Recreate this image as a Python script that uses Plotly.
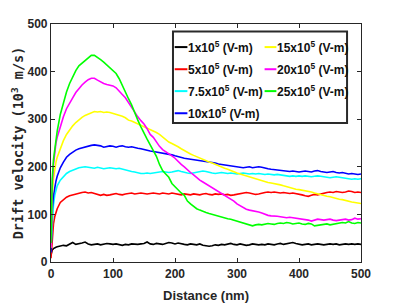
import plotly.graph_objects as go

distance_nm = [0, 1, 2, 4, 6, 8] + list(range(10, 501, 5))

v_1x = [15, 20, 25, 28, 30, 31,
        32, 33, 35, 34, 38, 41, 37, 38, 40, 42, 38, 36, 37, 38, 36, 37, 39, 38, 37, 38, 36, 35, 37, 36,
        38, 37, 37, 38, 39, 42, 38, 37, 39, 38, 37, 39, 41, 40, 38, 40, 38, 37, 36, 38, 37, 36, 38, 35,
        34, 33, 34, 36, 35, 37, 36, 38, 39, 37, 36, 38, 37, 35, 36, 38, 37, 36, 37, 36, 38, 37, 36, 38,
        39, 37, 38, 40, 41, 39, 37, 36, 37, 38, 36, 37, 38, 37, 36, 37, 38, 37, 38, 36, 37, 38, 37, 38,
        37, 38, 37]

v_5x = [8, 30, 55, 80, 95, 105,
        112, 125, 131, 136, 139, 141, 143, 144, 146, 147, 145, 146, 144, 141, 140, 142, 140, 141, 143, 144, 142, 141, 143, 144,
        145, 143, 144, 145, 144, 143, 144, 145, 144, 143, 145, 144, 143, 145, 144, 142, 141, 143, 142, 141, 143, 142, 141, 143,
        144, 142, 141, 143, 142, 143, 141, 142, 140, 141, 142, 144, 145, 146, 145, 144, 142, 143, 145, 146, 147, 146, 147, 146,
        145, 146, 145, 144, 145, 144, 143, 141, 139, 138, 140, 142, 141, 143, 144, 146, 147, 146, 148, 147, 146, 147, 149, 148,
        146, 147, 146]

v_7_5x = [30, 60, 90, 120, 140, 152,
          160, 172, 180, 186, 190, 193, 196, 198, 199, 200, 199, 198, 197, 199, 198, 196, 197, 198, 197, 196, 197, 195, 194, 192,
          190, 189, 187, 186, 186, 187, 186, 187, 188, 189, 190, 189, 188, 189, 191, 192, 190, 188, 187, 186, 187, 189, 190, 191,
          190, 188, 187, 186, 187, 188, 187, 186, 187, 186, 185, 186, 187, 186, 185, 186, 185, 186, 185, 184, 185, 184, 183, 184,
          183, 182, 181, 180, 181, 180, 181, 180, 181, 180, 179, 180, 181, 180, 179, 178, 177, 178, 179, 178, 177, 176, 175, 174,
          175, 174, 175]

v_10x = [20, 70, 110, 140, 158, 170,
         180, 198, 210, 220, 226, 231, 235, 238, 240, 242, 244, 245, 246, 245, 244, 241, 242, 244, 243, 241, 243, 244, 242, 241,
         242, 240, 239, 238, 236, 235, 233, 232, 231, 230, 228, 227, 226, 225, 223, 221, 219, 218, 217, 216, 215, 215, 214, 212,
         211, 210, 209, 208, 206, 205, 204, 203, 201, 200, 199, 198, 198, 199, 200, 198, 199, 200, 199, 197, 196, 195, 194, 193,
         192, 191, 190, 190, 191, 190, 189, 190, 191, 190, 189, 191, 192, 190, 189, 188, 189, 190, 188, 187, 188, 186, 185, 186,
         185, 184, 185]

v_15x = [30, 90, 140, 175, 195, 210,
         220, 240, 255, 268, 278, 286, 293, 299, 304, 308, 311, 314, 316, 315, 316, 314, 315, 314, 312, 310, 309, 306, 303, 298,
         296, 293, 290, 287, 284, 281, 279, 276, 272, 268, 263, 258, 252, 249, 246, 242, 238, 234, 230, 227, 224, 221, 218, 216,
         213, 210, 208, 205, 202, 199, 197, 195, 192, 190, 187, 185, 183, 181, 179, 177, 175, 172, 170, 168, 167, 166, 165, 163,
         162, 160, 158, 157, 155, 153, 152, 151, 150, 148, 147, 145, 143, 142, 140, 138, 137, 135, 134, 132, 131, 129, 128, 126,
         125, 124, 123]

v_20x = [30, 100, 160, 205, 230, 250,
         262, 285, 305, 322, 335, 345, 356, 365, 372, 378, 383, 386, 386, 382, 378, 375, 373, 372, 370, 366, 360, 352, 345, 335,
         325, 313, 305, 297, 290, 280, 268, 262, 252, 243, 236, 232, 228, 223, 218, 211, 205, 200, 193, 188, 183, 177, 172, 168,
         164, 160, 157, 152, 148, 144, 140, 136, 132, 128, 122, 118, 114, 111, 109, 108, 106, 105, 103, 100, 98, 97, 97, 96,
         95, 94, 93, 94, 93, 93, 92, 91, 90, 88, 86, 88, 90, 89, 88, 89, 90, 88, 87, 88, 89, 90, 88, 89,
         92, 90, 91]

v_25x = [40, 120, 175, 215, 240, 260,
         275, 310, 335, 357, 375, 390, 402, 412, 418, 422, 428, 434, 434, 430, 425, 420, 414, 408, 401, 396, 385, 370, 356, 343,
         330, 313, 298, 284, 270, 258, 246, 234, 222, 205, 192, 185, 178, 165, 158, 150, 145, 140, 128, 122, 116, 112, 109, 106,
         104, 102, 100, 98, 97, 95, 93, 91, 90, 88, 86, 85, 83, 81, 79, 76, 78, 79, 78, 80, 81, 80, 79, 81,
         82, 81, 83, 82, 80, 81, 82, 80, 79, 81, 80, 76, 77, 78, 79, 80, 78, 79, 80, 81, 83, 82, 85, 82,
         81, 83, 82]

series_names = ["1x10<sup>5</sup> (V-m)", "5x10<sup>5</sup> (V-m)", "7.5x10<sup>5</sup> (V-m)",
                "10x10<sup>5</sup> (V-m)", "15x10<sup>5</sup> (V-m)", "20x10<sup>5</sup> (V-m)",
                "25x10<sup>5</sup> (V-m)"]
series_values = [v_1x, v_5x, v_7_5x, v_10x, v_15x, v_20x, v_25x]
series_colors = ["#000000", "#ff0000", "#00ffff", "#0000ff", "#ffff00", "#ff00ff", "#00ff00"]

x_ticks = [0, 100, 200, 300, 400, 500]
y_ticks = [0, 100, 200, 300, 400, 500]

fig = go.Figure()
for name, vals, col in zip(series_names, series_values, series_colors):
    fig.add_trace(go.Scatter(x=distance_nm, y=vals, mode="lines", name=name,
                             line=dict(color=col, width=1.6), showlegend=False))

axis_color = "#262626"
common_axis = dict(showline=True, linecolor=axis_color, linewidth=1.2, mirror="ticks",
                   ticks="inside", ticklen=4, tickcolor=axis_color, showgrid=False, zeroline=False,
                   automargin=False,
                   tickfont=dict(family="Liberation Sans", size=12, color=axis_color, weight="bold"))

fig.update_xaxes(range=[0, 500], tickvals=x_ticks,
                 title=dict(text="Distance (nm)", standoff=11,
                            font=dict(family="Liberation Sans", size=13, color=axis_color, weight="bold")),
                 **common_axis)
fig.update_yaxes(range=[0, 500], tickvals=y_ticks,
                 title=dict(text="Drift velocity (10<sup>3</sup> m/s)", standoff=0,
                            font=dict(family="DejaVu Sans Mono", size=13.5, color=axis_color, weight="bold")),
                 **common_axis)

# Legend box (two columns, column-major order), in paper coordinates
box_x0, box_x1, box_y0, box_y1 = 0.3935, 0.955, 0.584, 0.969
row_y = [0.903, 0.810, 0.718, 0.625]
col_line_x = [(0.399, 0.440), (0.689, 0.727)]
col_text_x = [0.442, 0.730]

shapes = [dict(type="rect", xref="paper", yref="paper", x0=box_x0, x1=box_x1, y0=box_y0, y1=box_y1,
               line=dict(color="#2a2a2a", width=2), fillcolor="white", layer="above")]
annotations = []
for i, (name, col) in enumerate(zip(series_names, series_colors)):
    c = 0 if i < 4 else 1
    r = i if i < 4 else i - 4
    lx0, lx1 = col_line_x[c]
    shapes.append(dict(type="line", xref="paper", yref="paper", x0=lx0, x1=lx1, y0=row_y[r], y1=row_y[r],
                       line=dict(color=col, width=2), layer="above"))
    annotations.append(dict(xref="paper", yref="paper", x=col_text_x[c], y=row_y[r], text=name,
                            showarrow=False, xanchor="left", yanchor="middle", xshift=-2,
                            font=dict(family="Liberation Sans", size=12, color="#111111", weight="bold")))

# the page body adds an 8 px offset, so the figure is sized to fill the 399x307 window
fig.update_layout(
    width=391, height=299,
    margin=dict(l=43, r=38, t=16, b=45, autoexpand=False),
    plot_bgcolor="white", paper_bgcolor="white",
    showlegend=False,
    shapes=shapes, annotations=annotations,
)

fig.write_html("out.html")
